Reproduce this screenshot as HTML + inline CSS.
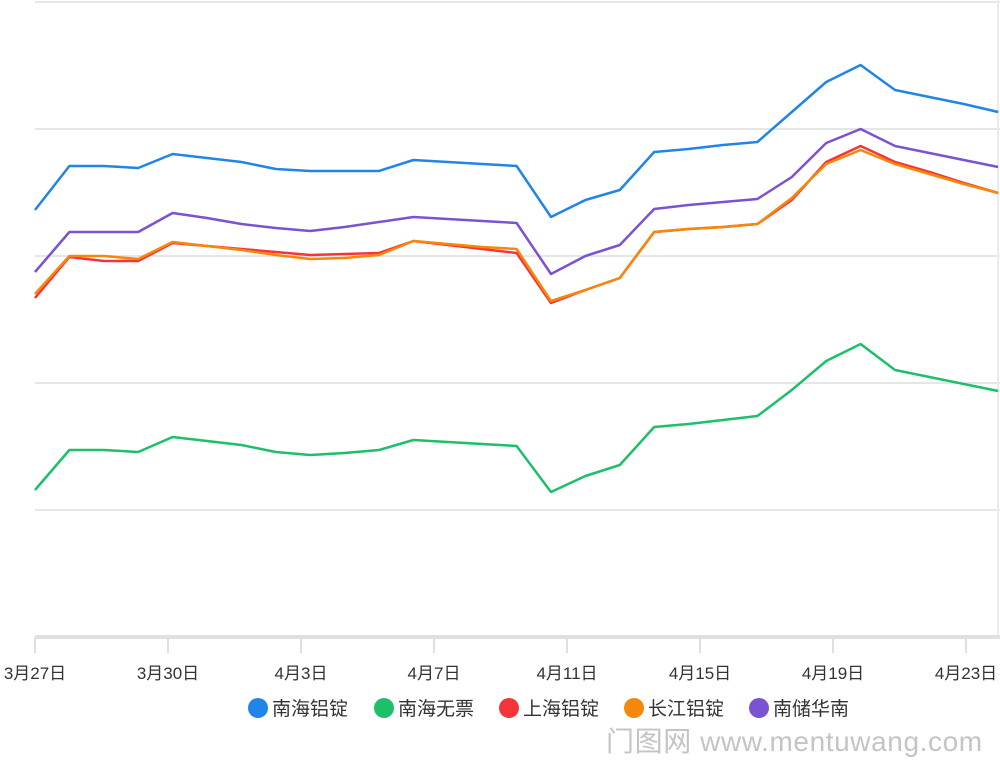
<!DOCTYPE html>
<html><head><meta charset="utf-8"><style>
html,body{margin:0;padding:0;background:#fff;}
body{width:1000px;height:765px;overflow:hidden;position:relative;font-family:"Liberation Sans","Noto Sans CJK SC",sans-serif;}
</style></head><body>
<svg id="chart" width="1000" height="765" style="position:absolute;left:0;top:0"></svg>
<div style="position:absolute;left:606px;top:720px;font-size:28px;color:#c4c4c4;font-family:'Liberation Sans','Noto Sans CJK SC',sans-serif;letter-spacing:0.6px;">门图网 www.mentuwang.com</div>
<script>
const categories = ["3月27日","3月28日","3月29日","3月30日","3月31日","4月1日","4月2日","4月3日","4月4日","4月5日","4月6日","4月7日","4月8日","4月9日","4月10日","4月11日","4月12日","4月13日","4月14日","4月15日","4月16日","4月17日","4月18日","4月19日","4月20日","4月21日","4月22日","4月23日","4月24日"];
const tickLabels = ["3月27日","3月30日","4月3日","4月7日","4月11日","4月15日","4月19日","4月23日"];
const seriesNames = ["南海铝锭","南海无票","上海铝锭","长江铝锭","南储华南"];
const seriesColors = ["#2185e8","#1dbf6a","#f5343a","#f5870a","#7b52d2"];
const nanhai = [427,471,471,469,483,479,475,468,466,466,466,477,475,473,471,420,437,447,485,488,492,495,525,555,572,547,540,533,525];
const nanhaiWupiao = [147,187,187,185,200,196,192,185,182,184,187,197,195,193,191,145,161,172,210,213,217,221,247,276,293,267,260,253,246];
const shanghai = [339,380,376,376,394,391,388,385,382,383,384,396,392,388,384,334,347,359,405,408,410,413,437,475,491,475,465,454,444];
const changjiang = [343,381,381,378,395,391,387,382,378,379,382,396,393,390,388,336,347,359,405,408,410,413,439,473,487,473,463,453,444];
const nanchu = [365,405,405,405,424,419,413,409,406,410,415,420,418,416,414,363,381,392,428,432,435,438,460,494,508,491,484,477,470];
const yTicks = [0,127,254,381,508,635];

const svg = document.getElementById('chart');
const NS = 'http://www.w3.org/2000/svg';
const X0 = 35, STEP = 34.4, Y0 = 637, YMAX = 635, YTOP = 2;
function xScale(i){ return X0 + i*STEP; }
function tickX(k){ return X0 + k*133; }
function yScale(v){ return Y0 - (v/YMAX)*(Y0-YTOP); }
function mk(tag, attrs){ const e=document.createElementNS(NS,tag); for(const k in attrs) e.setAttribute(k,attrs[k]); svg.appendChild(e); return e; }

yTicks.forEach((t,i)=>{
  if(t===0) return;
  const g = mk('line',{x1:X0,x2:1000,y1:yScale(t),y2:yScale(t),stroke:'#e6e6e6','stroke-width':2});
  
  
});
const rl = mk('line',{x1:998,x2:998,y1:0,y2:Y0,stroke:'#ececec','stroke-width':2});


const ax = mk('line',{x1:X0,x2:1000,y1:Y0,y2:Y0,stroke:'#e0e0e0','stroke-width':4});


tickLabels.forEach((lab,k)=>{
  const x = tickX(k);
  const tl = mk('line',{x1:x,x2:x,y1:Y0,y2:Y0+16,stroke:'#e0e0e0','stroke-width':2});
  
  
  const tx = mk('text',{x:x,y:679,'text-anchor':'middle','font-size':17,fill:'#333'});
  tx.textContent = lab;
  
  
});
const allSeries = [nanhai, nanhaiWupiao, shanghai, changjiang, nanchu];
const order = [1,0,4,2,3];
order.forEach(s=>{
  const d = allSeries[s].map((v,i)=>(i?'L':'M')+xScale(i).toFixed(1)+','+yScale(v).toFixed(1)).join(' ');
  const p = mk('path',{d:d,fill:'none',stroke:seriesColors[s],'stroke-width':2.5,'stroke-linejoin':'round'});
  
  
});
const legX = [248,374,499,624,749];
seriesNames.forEach((n,i)=>{
  const c = mk('circle',{cx:legX[i]+10,cy:708,r:10,fill:seriesColors[i]});
  
  
  const t = mk('text',{x:legX[i]+24,y:715,'font-size':19,fill:'#333'});
  t.textContent = n;
  
  
});
</script>
</body></html>
